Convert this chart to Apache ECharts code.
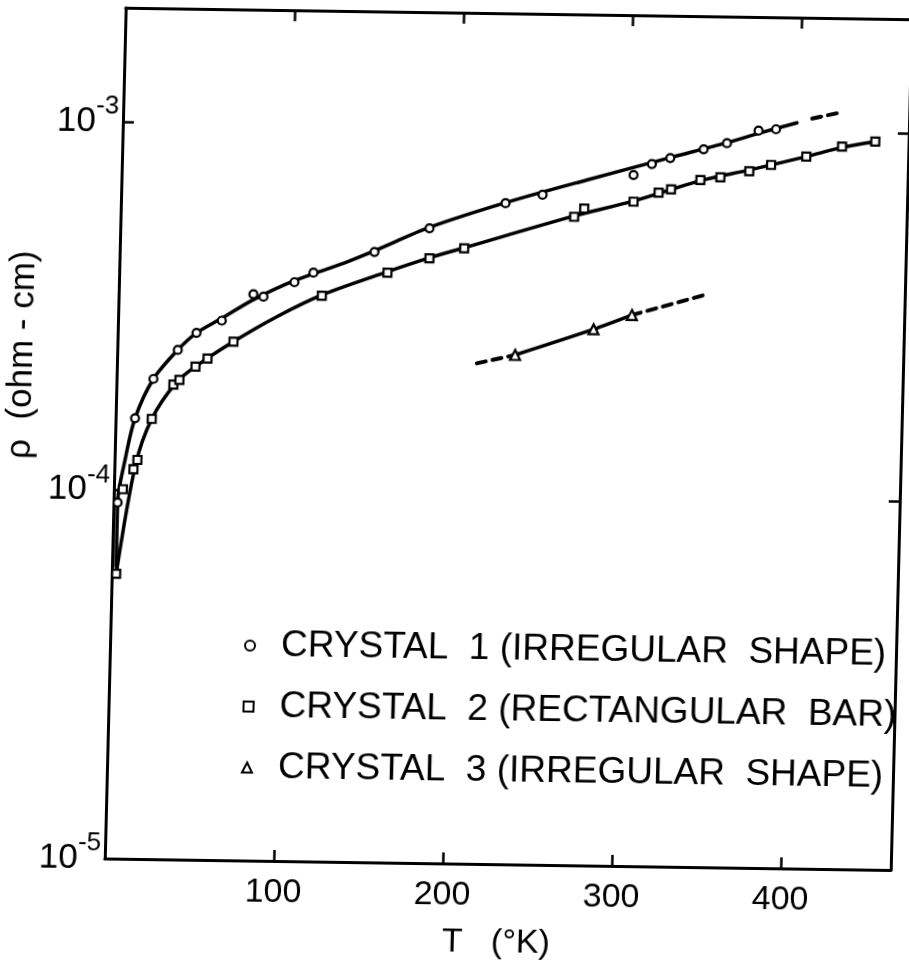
<!DOCTYPE html>
<html><head><meta charset="utf-8">
<script src="https://cdn.jsdelivr.net/npm/echarts@6/dist/echarts.min.js"></script>
<style>
html,body{margin:0;padding:0;background:#fff;overflow:hidden;width:909px;height:972px;}
#chart{position:absolute;left:0;top:0;width:960px;height:1000px;transform-origin:0 0;
transform:matrix(0.9999,0.014643,-0.024597,0.9997,-0.09,-2.11);}
</style></head><body><div id="chart"></div>
<script>
// ---- data ----
const seriesNames = ['CRYSTAL  1 (IRREGULAR  SHAPE)', 'CRYSTAL  2 (RECTANGULAR  BAR)', 'CRYSTAL  3 (IRREGULAR  SHAPE)'];
const xTickValues = [100, 200, 300, 400];
const yTickExponents = [-5, -4, -3];

// Crystal 1 (circles)
const c1T   = [2.4, 11.5, 21.8, 35.8, 46.6, 61.4, 79.7, 85.7, 103.8, 114.9, 150.7, 182.9, 227.5, 249.3, 302.8, 313.5, 324.3, 343.9, 357.6, 376.1, 386.4];
const c1Rho = [9.26e-5, 1.571e-4, 2.012e-4, 2.417e-4, 2.693e-4, 2.914e-4, 3.447e-4, 3.398e-4, 3.73e-4, 3.966e-4, 4.54e-4, 5.29e-4, 6.23e-4, 6.59e-4, 7.52e-4, 8.07e-4, 8.39e-4, 8.89e-4, 9.25e-4, 1.0035e-3, 1.014e-3];
// Crystal 2 (squares)
const c2T   = [2.6, 5.3, 11.3, 13.5, 21.4, 33.7, 37.2, 46.5, 53.5, 68.6, 120.2, 158.7, 183.3, 203.7, 268.3, 274.1, 303.2, 317.9, 325.2, 342.4, 354.2, 371.2, 384.0, 404.7, 425.7, 445.3];
const c2Rho = [5.93e-5, 1.007e-4, 1.142e-4, 1.211e-4, 1.567e-4, 1.945e-4, 2.004e-4, 2.182e-4, 2.296e-4, 2.559e-4, 3.437e-4, 3.994e-4, 4.386e-4, 4.683e-4, 5.76e-4, 6.065e-4, 6.365e-4, 6.75e-4, 6.90e-4, 7.33e-4, 7.47e-4, 7.78e-4, 8.11e-4, 8.57e-4, 9.15e-4, 9.47e-4];
// Crystal 3 (triangles)
const c3T   = [235.4, 281.4, 303.9];
const c3Rho = [2.416e-4, 2.857e-4, 3.134e-4];

// Drawn curves
const curve1T   = [2.4, 2.4, 6.2, 11.5, 21.8, 35.8, 46.6, 61.4, 79.7, 103.8, 132.5, 150.7, 182.9, 227.5, 275.3, 324.3, 357.6, 376.1, 398.7];
const curve1Rho = [6.2e-5, 9.26e-5, 1.21e-4, 1.571e-4, 2.012e-4, 2.417e-4, 2.693e-4, 2.958e-4, 3.33e-4, 3.767e-4, 4.218e-4, 4.575e-4, 5.32e-4, 6.25e-4, 7.26e-4, 8.41e-4, 9.28e-4, 9.87e-4, 1.058e-3];
const curve1DashT   = [407.7, 422.3];
const curve1DashRho = [1.088e-3, 1.127e-3];
const curve2T   = [2.6, 12.4, 21.4, 35.3, 46.5, 68.6, 93.9, 120.2, 158.7, 183.3, 203.7, 268.3, 303.2, 342.4, 371.2, 404.7, 425.7, 445.3];
const curve2Rho = [5.93e-5, 1.17e-4, 1.567e-4, 1.97e-4, 2.182e-4, 2.559e-4, 3.003e-4, 3.453e-4, 4.019e-4, 4.40e-4, 4.70e-4, 5.79e-4, 6.39e-4, 7.30e-4, 7.84e-4, 8.57e-4, 9.11e-4, 9.47e-4];
const curve3T   = [235.4, 281.4, 303.9];
const curve3Rho = [2.416e-4, 2.857e-4, 3.134e-4];
const curve3DashLeftT   = [212.9, 235.4];
const curve3DashLeftRho = [2.285e-4, 2.416e-4];
const curve3DashRightT   = [303.9, 348.9];
const curve3DashRightRho = [3.134e-4, 3.60e-4];

// ---- chart ----
const FONT = 'Liberation Sans';
const pairs = (xs, ys) => xs.map((x, i) => [x, ys[i]]);
const markerStyle = { color: '#fff', borderColor: '#000', borderWidth: 2.2, opacity: 1 };

function curve(xs, ys, dashed) {
  return {
    type: 'line', data: pairs(xs, ys), showSymbol: false, symbol: 'none', silent: true,
    smooth: dashed ? false : 0.3, z: 2,
    lineStyle: { color: '#000', width: dashed ? 4 : 3.5, type: dashed ? [9, 7] : 'solid', cap: 'round', opacity: 1 }
  };
}

const chart = echarts.init(document.getElementById('chart'), null, { renderer: 'canvas' });
const axisCommon = {
  axisLine: { onZero: false, lineStyle: { color: '#000', width: 3 } },
  axisTick: { inside: true, length: 11, lineStyle: { color: '#000', width: 2.5 } },
  splitLine: { show: false }
};
chart.setOption({
  animation: false,
  backgroundColor: '#fff',
  grid: { left: 126, top: 8, width: 786, height: 851, containLabel: false },
  xAxis: [
    Object.assign({
      type: 'value', min: 0, max: 465, interval: 100, position: 'bottom',
      name: 'T   (°K)', nameLocation: 'middle', nameGap: 62,
      nameTextStyle: { fontFamily: FONT, fontSize: 34, color: '#000' },
      axisLabel: {
        margin: 15, showMinLabel: false, showMaxLabel: false,
        fontFamily: FONT, fontSize: 34, color: '#000',
        formatter: v => xTickValues.indexOf(v) >= 0 ? String(v) : ''
      }
    }, axisCommon),
    Object.assign({
      type: 'value', min: 0, max: 465, interval: 100, position: 'top',
      axisLabel: { show: false }
    }, axisCommon)
  ],
  yAxis: [
    Object.assign({
      type: 'log', logBase: 10, min: 1e-5, max: 2.042e-3, position: 'left',
      name: 'ρ  (ohm - cm)', nameLocation: 'middle', nameRotate: 90, nameGap: 66,
      nameTextStyle: { fontFamily: FONT, fontSize: 35, color: '#000', padding: [0, 0, 0, 154] },
      axisLabel: {
        margin: 4, showMaxLabel: false,
        formatter: v => {
          const e = Math.round(Math.log10(v));
          if (Math.abs(Math.log10(v) - e) > 1e-6 || yTickExponents.indexOf(e) < 0) return '';
          return '{b|10}{s|-' + Math.abs(e) + '}';
        },
        rich: {
          b: { fontFamily: FONT, fontSize: 35, lineHeight: 35, color: '#000' },
          s: { fontFamily: FONT, fontSize: 26, lineHeight: 26, color: '#000', padding: [0, 0, 30, 0] }
        }
      }
    }, axisCommon),
    Object.assign({
      type: 'log', logBase: 10, min: 1e-5, max: 2.042e-3, position: 'right',
      axisLabel: { show: false }
    }, axisCommon)
  ],
  legend: {
    orient: 'vertical', left: 255, top: 619, itemWidth: 10, itemHeight: 10, itemGap: 21,
    selectedMode: false,
    data: [
      { name: seriesNames[0], icon: 'circle' },
      { name: seriesNames[1], icon: 'rect' },
      { name: seriesNames[2], icon: 'triangle' }
    ],
    itemStyle: { color: '#fff', borderColor: '#000', borderWidth: 2, opacity: 1 },
    textStyle: { fontFamily: FONT, fontSize: 37, lineHeight: 40, color: '#000', padding: [0, 0, 0, 21] }
  },
  series: [
    curve(curve1T, curve1Rho, false),
    curve(curve1DashT, curve1DashRho, true),
    curve(curve2T, curve2Rho, false),
    curve(curve3T, curve3Rho, false),
    curve(curve3DashLeftT, curve3DashLeftRho, true),
    curve(curve3DashRightT, curve3DashRightRho, true),
    { name: seriesNames[0], type: 'scatter', symbol: 'circle', symbolSize: 8, z: 3,
      itemStyle: markerStyle, data: pairs(c1T, c1Rho) },
    { name: seriesNames[1], type: 'scatter', symbol: 'rect', symbolSize: 8, z: 3,
      itemStyle: markerStyle, data: pairs(c2T, c2Rho) },
    { name: seriesNames[2], type: 'scatter', symbol: 'triangle', symbolSize: 10, z: 3,
      itemStyle: markerStyle, data: pairs(c3T, c3Rho) }
  ]
});
</script>
</body></html>
